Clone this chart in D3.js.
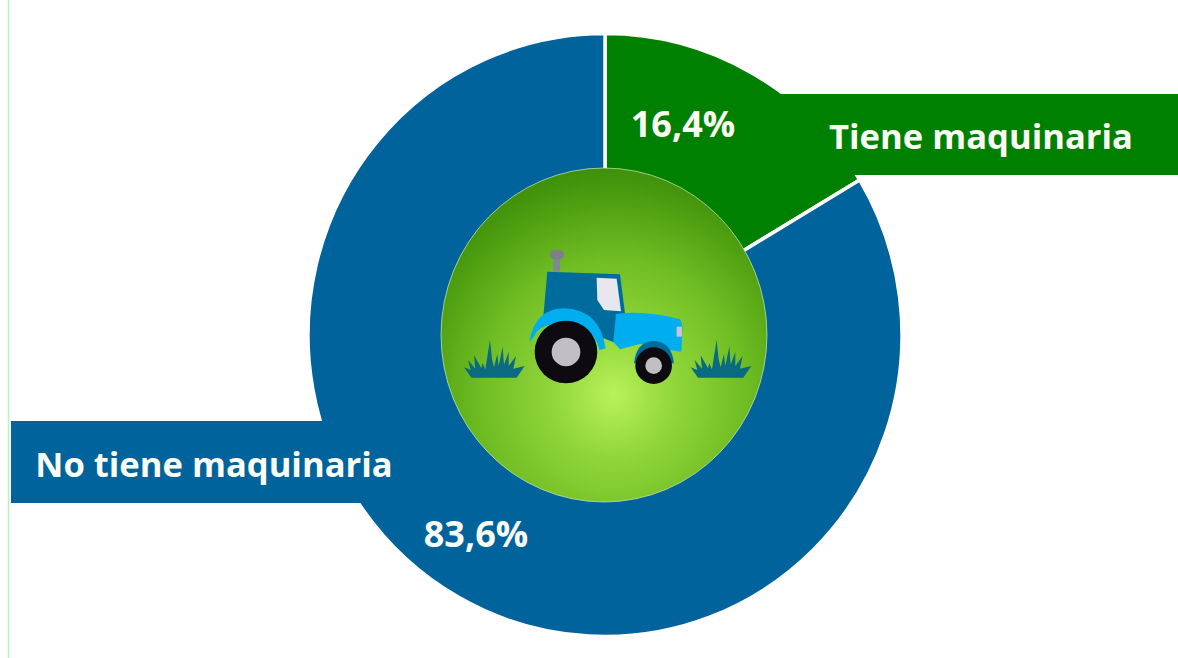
<!DOCTYPE html>
<html>
<head>
<meta charset="utf-8">
<script src="https://cdn.jsdelivr.net/npm/d3@7"></script>
<style>
    html, body { margin: 0; padding: 0; background: #fff; overflow: hidden; }
    text { font-family: "Open Sans", Lato, sans-serif; font-weight: 700; fill: #fbfdf4; }
</style>
</head>
<body>
<div id="svg-container"></div>
<script>
const categories = ["Tiene maquinaria", "No tiene maquinaria"];
const shares = [16.4, 83.6];
const sliceColors = ["#008000", "#00639c"];

const width = 1178;
const height = 658;
const cx = 605;
const cy = 335;
const outerRadius = 301.5;
const innerRadius = 158;

const svg = d3.select("#svg-container")
    .append("svg")
    .attr("width", width)
    .attr("height", height)
    .attr("viewBox", `0 0 ${width} ${height}`)
    .style("display", "block");

// thin line on the left edge of the picture
svg.append("line")
    .attr("x1", 8.5).attr("x2", 8.5)
    .attr("y1", 0).attr("y2", height)
    .attr("stroke", "#b4f5b4")
    .attr("stroke-width", 1.5);

// donut, the source picture is a little squeezed sideways
const pie = d3.pie().sort(null)(shares);
const arc = d3.arc().innerRadius(innerRadius).outerRadius(outerRadius);

svg.append("g")
    .attr("transform", `translate(${cx},${cy}) scale(0.985,1)`)
    .selectAll("path")
    .data(pie)
    .enter()
    .append("path")
    .attr("d", arc)
    .attr("fill", (d, i) => sliceColors[i])
    .attr("stroke", "#fff")
    .attr("stroke-width", 3.5);

// label bands
svg.append("rect")
    .attr("x", 775).attr("y", 94)
    .attr("width", width - 775).attr("height", 81)
    .attr("fill", sliceColors[0]);

svg.append("rect")
    .attr("x", 11).attr("y", 421)
    .attr("width", 370).attr("height", 82)
    .attr("fill", sliceColors[1]);

// middle disc
const defs = svg.append("defs");
const grad = defs.append("radialGradient")
    .attr("id", "disc")
    .attr("cx", 0.53).attr("cy", 0.68).attr("r", 0.7);
[[0, "#b9f25a"], [0.25, "#93d83c"], [0.6, "#6dbb22"], [0.85, "#4c9d10"], [1, "#3b8c0a"]].forEach(s => {
    grad.append("stop").attr("offset", s[0]).attr("stop-color", s[1]);
});

svg.append("ellipse")
    .attr("cx", 604).attr("cy", 335).attr("rx", 163).attr("ry", 167)
    .attr("fill", "url(#disc)")
    .attr("stroke", "#cfeeb0")
    .attr("stroke-opacity", 0.7)
    .attr("stroke-width", 1);

// tractor icon, drawn in the 3x crop space
const icon = svg.append("g").attr("transform", "translate(440,160) scale(0.3333)");

function grass(g) {
    g.append("path")
        .attr("fill", "#0a6a80")
        .attr("d", "M22,115 L0,84 L20,92 L12,62 L34,88 L30,48 L52,86 L56,72 L64,90 L78,2 L84,60 L90,84 L100,44 L104,80 L116,22 L120,76 L134,38 L134,80 L156,50 L148,88 L182,80 L158,115 Z");
}
grass(icon.append("g").attr("transform", "translate(72,538)"));
grass(icon.append("g").attr("transform", "translate(752,538)"));

// exhaust
icon.append("rect").attr("x", 340).attr("y", 290).attr("width", 20).attr("height", 45).attr("fill", "#7d8a90");
icon.append("ellipse").attr("cx", 351).attr("cy", 284).attr("rx", 22).attr("ry", 15).attr("fill", "#7d8088");

// cab
icon.append("path")
    .attr("fill", "#006c9e")
    .attr("d", "M322,335 L540,343 L555,460 L525,548 L480,530 L310,470 Z");
icon.append("path")
    .attr("fill", "#e6e8ee")
    .attr("d", "M470,353 L530,356 L543,454 L492,450 L472,420 Z");

// hood
icon.append("path")
    .attr("fill", "#00aeef")
    .attr("d", "M528,462 Q620,450 720,478 L728,500 L724,575 L690,570 L600,552 L540,568 L520,545 Z");
icon.append("rect").attr("x", 710).attr("y", 500).attr("width", 16).attr("height", 30).attr("fill", "#c9c3d6");

// rear fender
icon.append("path")
    .attr("fill", "#00aeef")
    .attr("d", "M268,545 Q285,445 375,445 Q480,450 497,565 L478,570 Q460,495 378,490 Q295,490 282,530 Z");

// front fender and wheels
icon.append("path")
    .attr("fill", "#006c9e")
    .attr("d", "M582,610 Q590,543 642,543 Q695,545 702,610 Z");

[[378, 576, 94, 43], [641, 617, 55, 25]].forEach(w => {
    icon.append("circle").attr("cx", w[0]).attr("cy", w[1]).attr("r", w[2]).attr("fill", "#0e0b10");
    icon.append("circle").attr("cx", w[0]).attr("cy", w[1]).attr("r", w[3]).attr("fill", "#c2bfc4");
});

// texts
const formatShare = d3.formatLocale({ decimal: ",", thousands: ".", grouping: [3], currency: ["", ""] }).format(".1f");

const labelSize = 34.6;
svg.append("text")
    .attr("x", 981).attr("y", 149)
    .attr("text-anchor", "middle")
    .style("font-size", `${labelSize}px`)
    .text(categories[0]);

svg.append("text")
    .attr("x", 214).attr("y", 477)
    .attr("text-anchor", "middle")
    .style("font-size", `${labelSize}px`)
    .text(categories[1]);

svg.append("text")
    .attr("x", 683).attr("y", 137)
    .attr("text-anchor", "middle")
    .style("font-size", "36px")
    .text(`${formatShare(shares[0])}%`);

svg.append("text")
    .attr("x", 476).attr("y", 547)
    .attr("text-anchor", "middle")
    .style("font-size", "36px")
    .text(`${formatShare(shares[1])}%`);
</script>
</body>
</html>
